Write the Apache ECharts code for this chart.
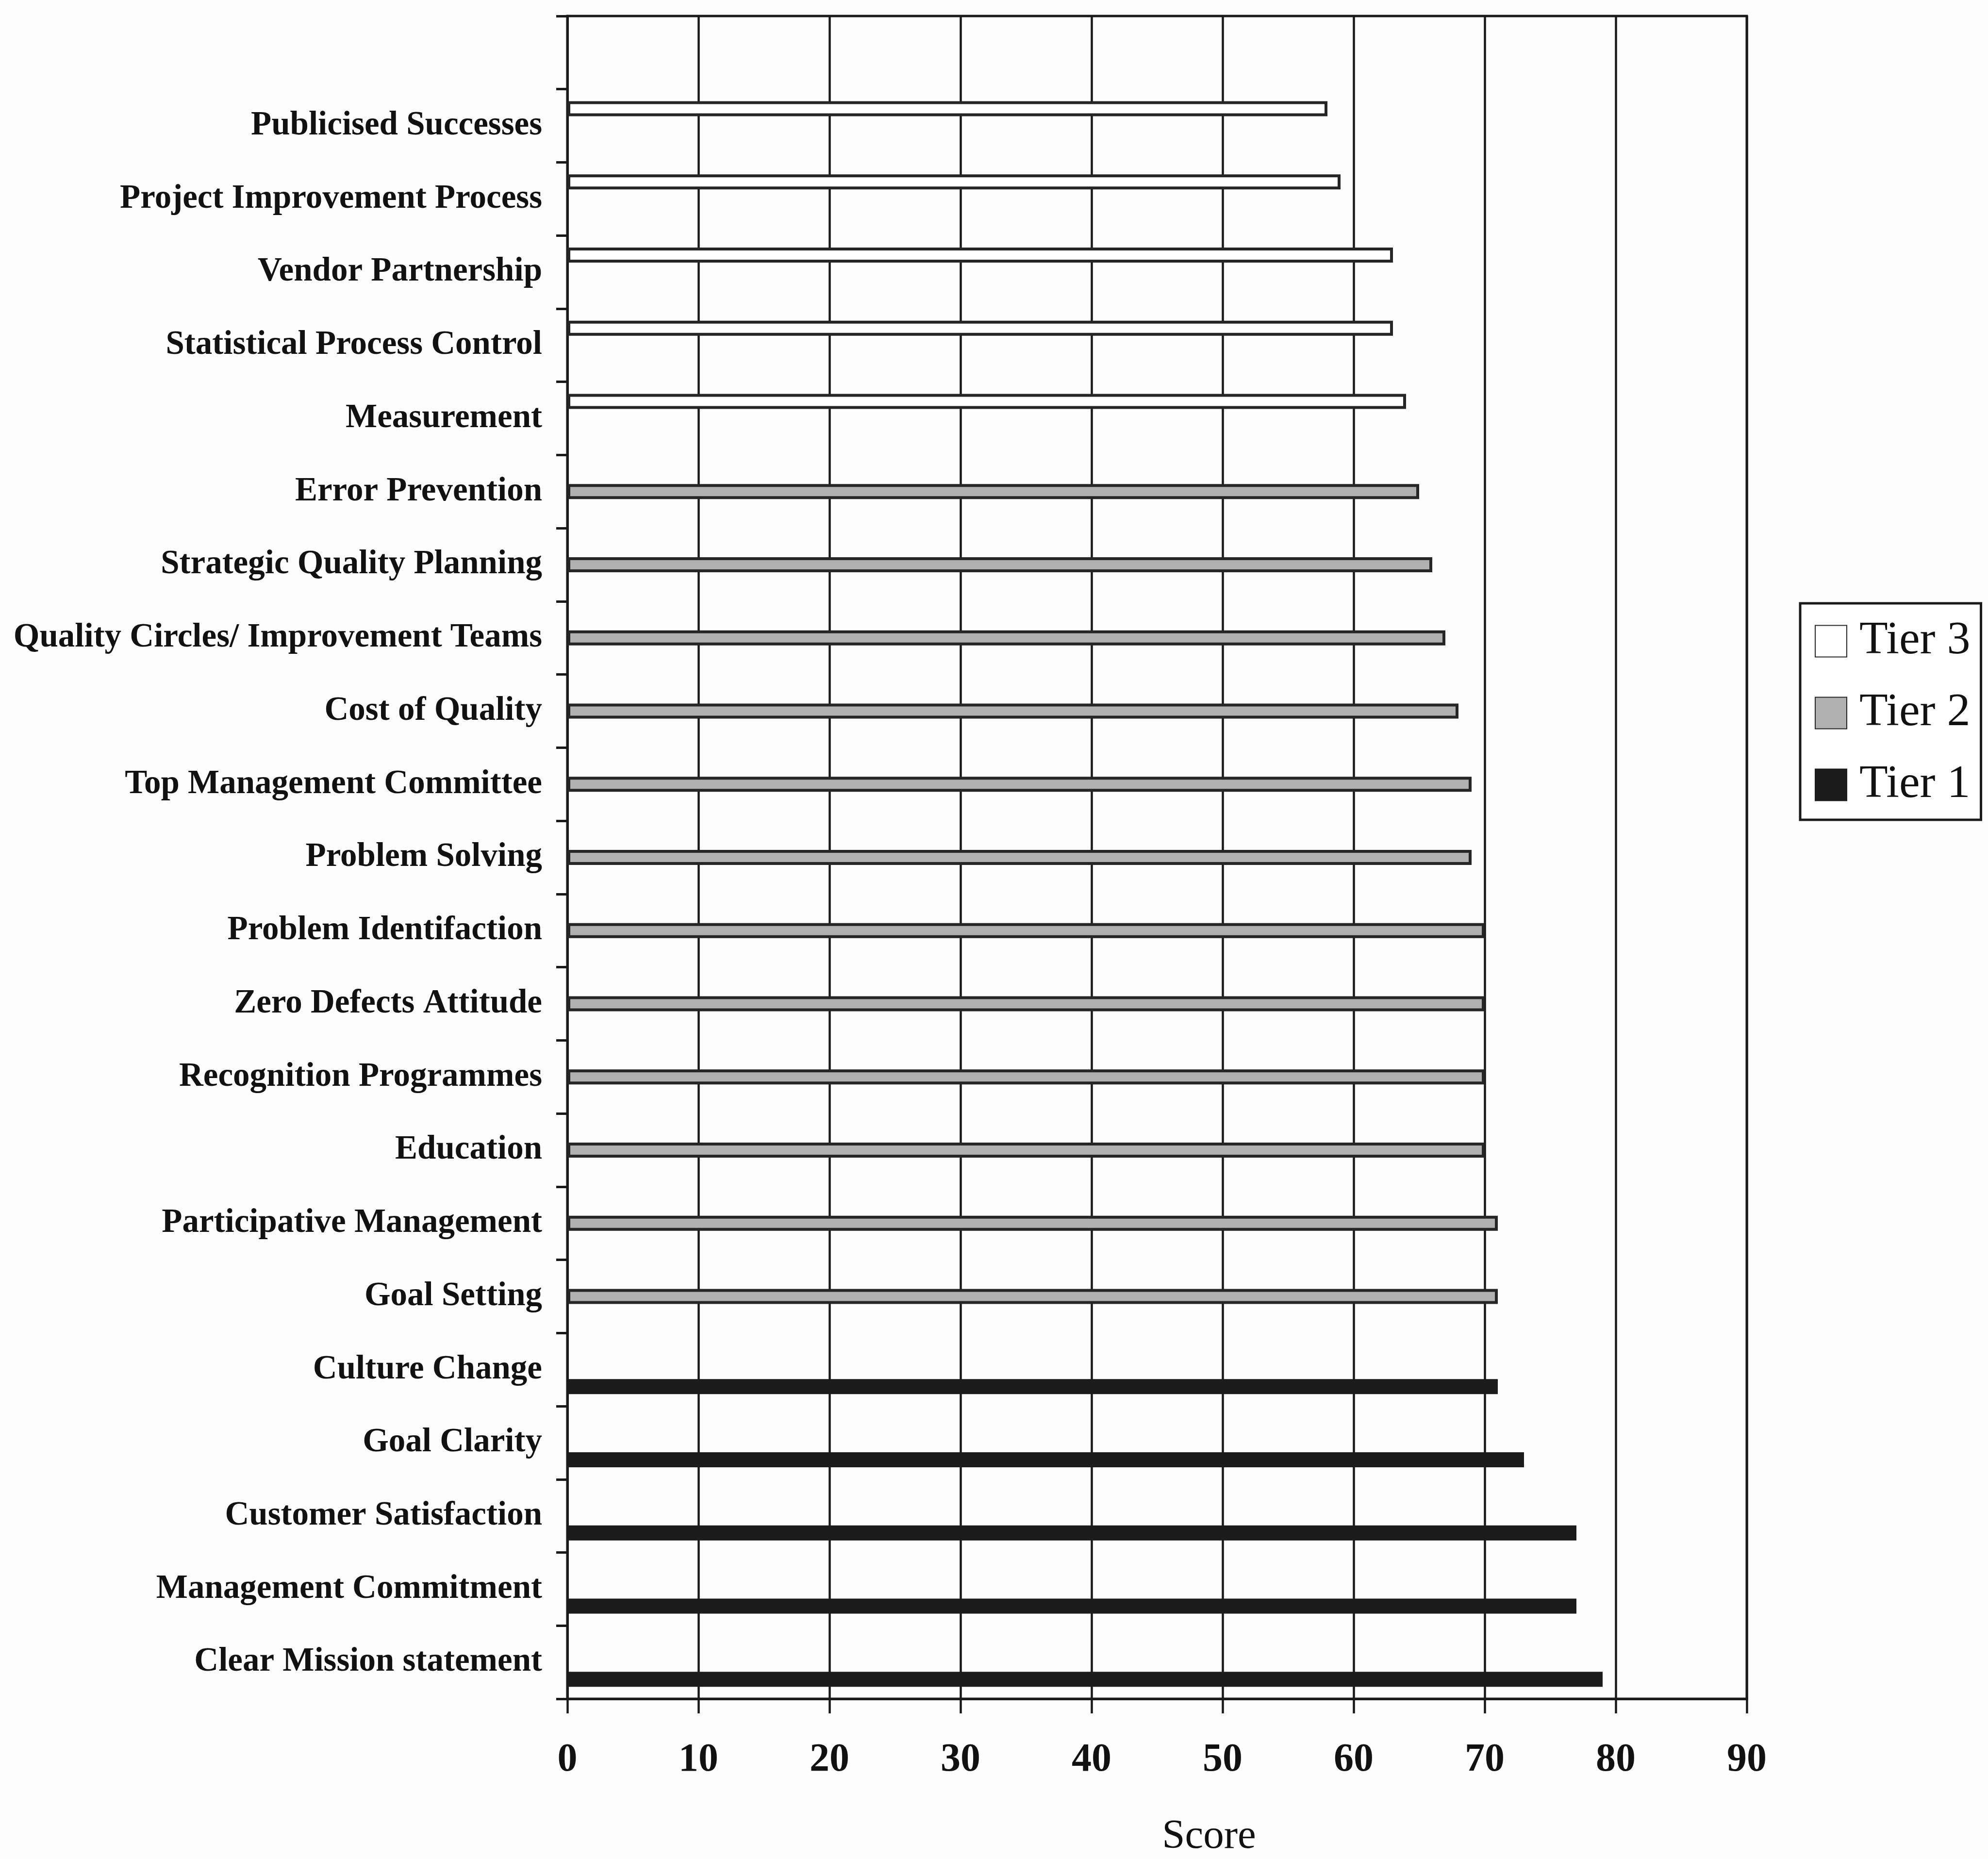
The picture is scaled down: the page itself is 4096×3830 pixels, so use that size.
<!DOCTYPE html>
<html>
<head>
<meta charset="utf-8">
<script src="https://cdn.jsdelivr.net/npm/echarts@6/dist/echarts.min.js"></script>
<style>
  html, body { margin: 0; padding: 0; background: #fdfdfd; }
  #chart { width: 4096px; height: 3830px; }
</style>
</head>
<body>
<div id="chart"></div>
<script>
// Quality-programme elements, grouped into three tiers (top to bottom)
const tier3Items = ['Publicised Successes', 'Project Improvement Process', 'Vendor Partnership',
  'Statistical Process Control', 'Measurement'];
const tier3Values = [58, 59, 63, 63, 64];

const tier2Items = ['Error Prevention', 'Strategic Quality Planning', 'Quality Circles/ Improvement Teams',
  'Cost of Quality', 'Top Management Committee', 'Problem Solving', 'Problem Identifaction',
  'Zero Defects Attitude', 'Recognition Programmes', 'Education', 'Participative Management', 'Goal Setting'];
const tier2Values = [65, 66, 67, 68, 69, 69, 70, 70, 70, 70, 71, 71];

const tier1Items = ['Culture Change', 'Goal Clarity', 'Customer Satisfaction',
  'Management Commitment', 'Clear Mission statement'];
const tier1Values = [71, 73, 77, 77, 79];

const tierNames = ['Tier 3', 'Tier 2', 'Tier 1'];

// Score axis
const scoreMin = 0;
const scoreMax = 90;
const scoreStep = 10;

// One blank row above the first element, then every element in order
const categories = [''].concat(tier3Items, tier2Items, tier1Items);

function alignToCategories(items, values) {
  return categories.map(function (c) {
    const i = items.indexOf(c);
    return i >= 0 ? values[i] : null;
  });
}

const ink = '#1a1a1a';
const serif = '"Liberation Serif", "Times New Roman", serif';

const tierStyles = [
  { color: '#ffffff', borderColor: '#262626', borderWidth: 6 },
  { color: '#b0b0b0', borderColor: '#262626', borderWidth: 6 },
  { color: '#1c1c1c', borderColor: '#1c1c1c', borderWidth: 6 }
];
const tierData = [
  alignToCategories(tier3Items, tier3Values),
  alignToCategories(tier2Items, tier2Values),
  alignToCategories(tier1Items, tier1Values)
];

const chart = echarts.init(document.getElementById('chart'), null, { renderer: 'canvas' });

chart.setOption({
  backgroundColor: '#fdfdfd',
  animation: false,
  grid: {
    left: 1169,
    right: 497,
    top: 33,
    bottom: 330,
    show: true,
    borderColor: ink,
    borderWidth: 5,
    backgroundColor: 'transparent',
    outerBoundsMode: 'none'
  },
  legend: {
    orient: 'vertical',
    left: 3709,
    top: 1243,
    data: tierNames,
    icon: 'rect',
    itemWidth: 65,
    itemHeight: 65,
    itemGap: 52,
    padding: [30, 22, 24, 30],
    borderColor: ink,
    borderWidth: 5,
    backgroundColor: '#ffffff',
    textStyle: {
      fontFamily: serif,
      fontSize: 96,
      lineHeight: 95,
      color: '#111',
      padding: [0, 0, 0, 21]
    }
  },
  xAxis: {
    type: 'value',
    min: scoreMin,
    max: scoreMax,
    interval: scoreStep,
    name: 'Score',
    nameLocation: 'middle',
    nameGap: 285,
    nameTextStyle: {
      fontFamily: serif,
      fontSize: 85,
      color: '#111',
      verticalAlign: 'middle',
      padding: [0, 0, 0, 214]
    },
    axisLine: { show: true, lineStyle: { color: ink, width: 5 } },
    axisTick: { show: true, length: 30, lineStyle: { color: ink, width: 4.5 } },
    axisLabel: {
      fontFamily: serif,
      fontWeight: 'bold',
      fontSize: 82,
      lineHeight: 82,
      color: '#111',
      margin: 86
    },
    splitLine: { show: true, lineStyle: { color: ink, width: 4.5 } }
  },
  yAxis: {
    type: 'category',
    data: categories,
    inverse: true,
    axisLine: { show: true, lineStyle: { color: ink, width: 5 } },
    axisTick: { show: true, length: 23, interval: 0, lineStyle: { color: ink, width: 5 } },
    axisLabel: {
      interval: 0,
      fontFamily: serif,
      fontWeight: 'bold',
      fontSize: 69,
      color: '#111',
      margin: 52
    },
    splitLine: { show: false }
  },
  series: tierNames.map(function (name, k) {
    return {
      name: name,
      type: 'bar',
      data: tierData[k],
      barWidth: 31,
      barGap: '13%',
      itemStyle: tierStyles[k]
    };
  })
});
</script>
</body>
</html>
